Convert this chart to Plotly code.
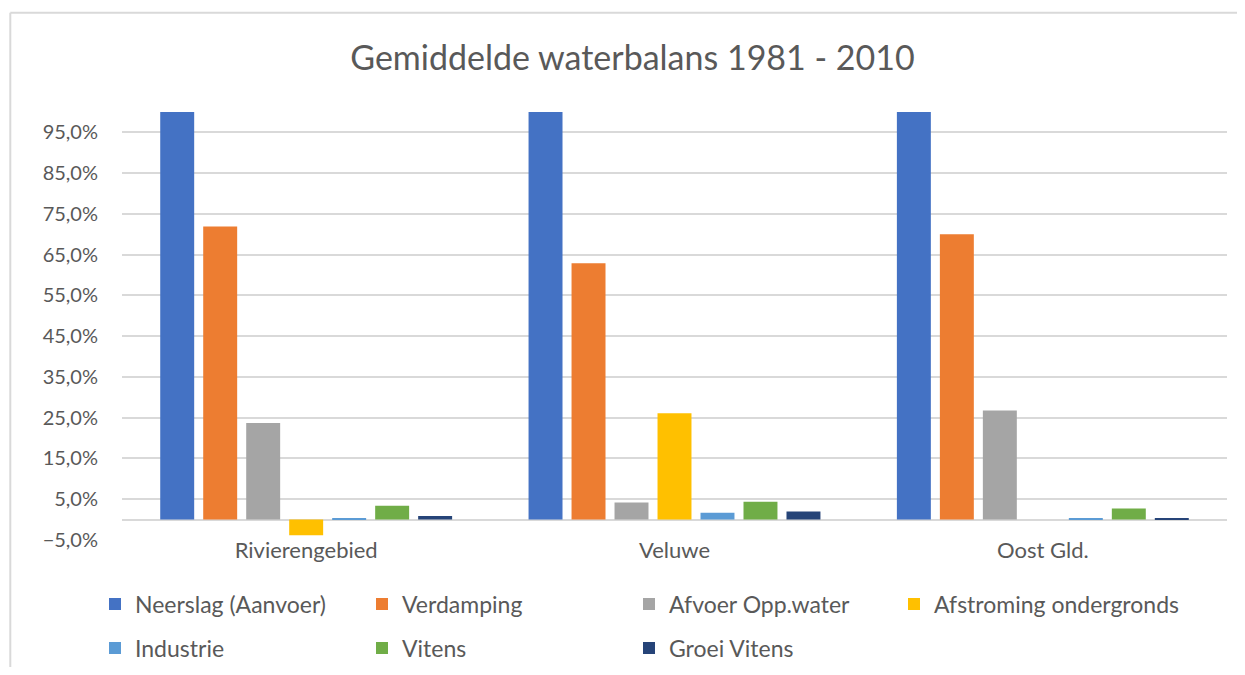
import plotly.graph_objects as go

categories = ["Rivierengebied", "Veluwe", "Oost Gld."]
series_names = ["Neerslag (Aanvoer)", "Verdamping", "Afvoer Opp.water", "Afstroming ondergronds",
                "Industrie", "Vitens", "Groei Vitens"]
neerslag = [1.00, 1.00, 1.00]
verdamping = [0.719, 0.629, 0.700]
afvoer = [0.237, 0.042, 0.268]
afstroming = [-0.0385, 0.261, 0.0]
industrie = [0.004, 0.017, 0.003]
vitens = [0.034, 0.044, 0.027]
groei_vitens = [0.009, 0.020, 0.003]
series_values = [neerslag, verdamping, afvoer, afstroming, industrie, vitens, groei_vitens]
colors = ["#4472C4", "#ED7D31", "#A5A5A5", "#FFC000", "#5B9BD5", "#70AD47", "#264478"]
tick_vals = [-0.05, 0.05, 0.15, 0.25, 0.35, 0.45, 0.55, 0.65, 0.75, 0.85, 0.95]
legend_of_series = ["legend", "legend", "legend", "legend3", "legend2", "legend2", "legend2"]

# page has an 8px body margin -> figure shifted by 8px and sized to fit the window
OFF = 8
W, H = 1245 - OFF, 675 - 2 * OFF
ML, MR, MT = 114, 18, 104
MB = H - 532
FONT = "Lato"
TXT = "#595959"
GRID = "#D9D9D9"

fig = go.Figure()
for name, vals, col, leg in zip(series_names, series_values, colors, legend_of_series):
    fig.add_trace(go.Bar(
        x=categories, y=vals, name=name, marker_color=col,
        marker_line_width=0, legend=leg,
    ))

pw = W - ML - MR
ph = H - MT - MB
def px_x(p):
    return (p - ML) / pw
def px_y(p):
    return (H - MB - p) / ph

leg_common = dict(orientation="h", xanchor="left", yanchor="middle",
                  entrywidth=222, entrywidthmode="pixels", font=dict(size=23, color=TXT),
                  traceorder="normal", itemclick=False, bgcolor="rgba(0,0,0,0)")

fig.update_layout(
    width=W, height=H,
    margin=dict(l=ML, r=MR, t=MT, b=MB, autoexpand=False),
    paper_bgcolor="white", plot_bgcolor="white",
    separators=",.",
    barmode="group", bargap=0.183, bargroupgap=0.21,
    font=dict(family=FONT, color=TXT, size=20),
    title=dict(text="Gemiddelde waterbalans 1981 - 2010", x=624.5 / W, xanchor="center",
               y=1 - 50 / H, yanchor="middle",
               font=dict(family=FONT, size=34, color=TXT)),
    xaxis=dict(showgrid=False, ticks="", showline=False, tickfont=dict(size=22),
               ticklabelstandoff=-5),
    yaxis=dict(range=[-0.05, 1.0], tickvals=tick_vals, tickformat=".1%",
               showgrid=True, gridcolor=GRID, gridwidth=2,
               zeroline=True, zerolinecolor=GRID, zerolinewidth=2,
               showline=False, ticks="", ticklabelstandoff=23,
               tickfont=dict(size=20)),
    legend=dict(x=px_x(87), y=px_y(596), **leg_common),
    legend2=dict(x=px_x(87), y=px_y(640), **leg_common),
    legend3=dict(x=px_x(886), y=px_y(596), **{**leg_common, "entrywidth": 300}),
    shapes=[
        dict(type="line", xref="paper", yref="paper", x0=px_x(2.3), x1=px_x(W + 5),
             y0=px_y(4.8), y1=px_y(4.8), line=dict(color=GRID, width=2)),
        dict(type="line", xref="paper", yref="paper", x0=px_x(2.3), x1=px_x(2.3),
             y0=px_y(4.8), y1=px_y(H + 5), line=dict(color=GRID, width=2)),
    ],
)

fig.write_html("out.html")
